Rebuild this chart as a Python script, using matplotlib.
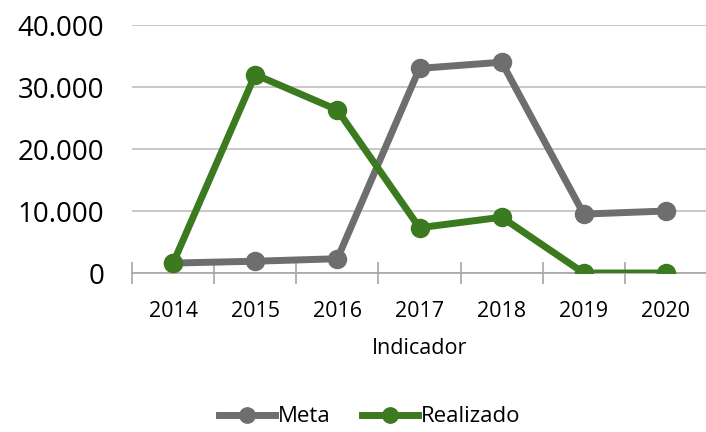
import matplotlib
matplotlib.use("Agg")
import matplotlib.pyplot as plt
import numpy as np

plt.rcParams['font.family'] = ['Open Sans', 'DejaVu Sans']

categories = ["2014", "2015", "2016", "2017", "2018", "2019", "2020"]
meta = [1600, 1900, 2300, 33000, 34000, 9500, 10000]
realizado = [1600, 32000, 26300, 7300, 9000, 0, 0]
yticks = [0, 10000, 20000, 30000, 40000]
ytick_labels = ["0", "10.000", "20.000", "30.000", "40.000"]

fig = plt.figure(figsize=(7.06, 4.32), dpi=100)
ax = fig.add_axes([132/706, 1-273/432, (707-132)/706, (273-25)/432])

x = np.arange(len(categories))
gray = "#6e6e6e"
green = "#3b7a1f"
ax.plot(x, meta, color=gray, lw=5, marker="o", ms=13, label="Meta", zorder=3)
ax.plot(x, realizado, color=green, lw=5, marker="o", ms=13, label="Realizado", zorder=4)

ax.set_xlim(-0.5, len(categories) - 0.5)
ax.set_ylim(0, 40000)
ax.set_yticks(yticks)
ax.set_yticklabels(ytick_labels, fontsize=20)
ax.set_xticks(x)
ax.set_xticklabels(categories, fontsize=15.5)
ax.set_xticks(np.arange(-0.5, len(categories), 0.5), minor=True)
ax.tick_params(axis="x", which="major", length=0, pad=20)
ax.tick_params(axis="x", which="minor", length=16, direction="inout", color="#a6a6a6", width=1.2)
ax.tick_params(axis="y", length=0, pad=20)
ax.yaxis.grid(True, color="#bfbfbf", lw=1.2)
ax.set_axisbelow(True)
for s in ["top", "right", "left"]:
    ax.spines[s].set_visible(False)
ax.spines["bottom"].set_color("#a6a6a6")
ax.spines["bottom"].set_linewidth(1.2)
ax.spines["bottom"].set_zorder(2)
ax.set_xlabel("Indicador", fontsize=15.5, labelpad=12)

fig.legend(loc="center", bbox_to_anchor=(0.524, 1-417/432), ncol=2, frameon=False,
           fontsize=16, handlelength=2.5, columnspacing=1.4, handletextpad=0.15, markerscale=0.85)

fig.savefig("out.png", dpi=100)
